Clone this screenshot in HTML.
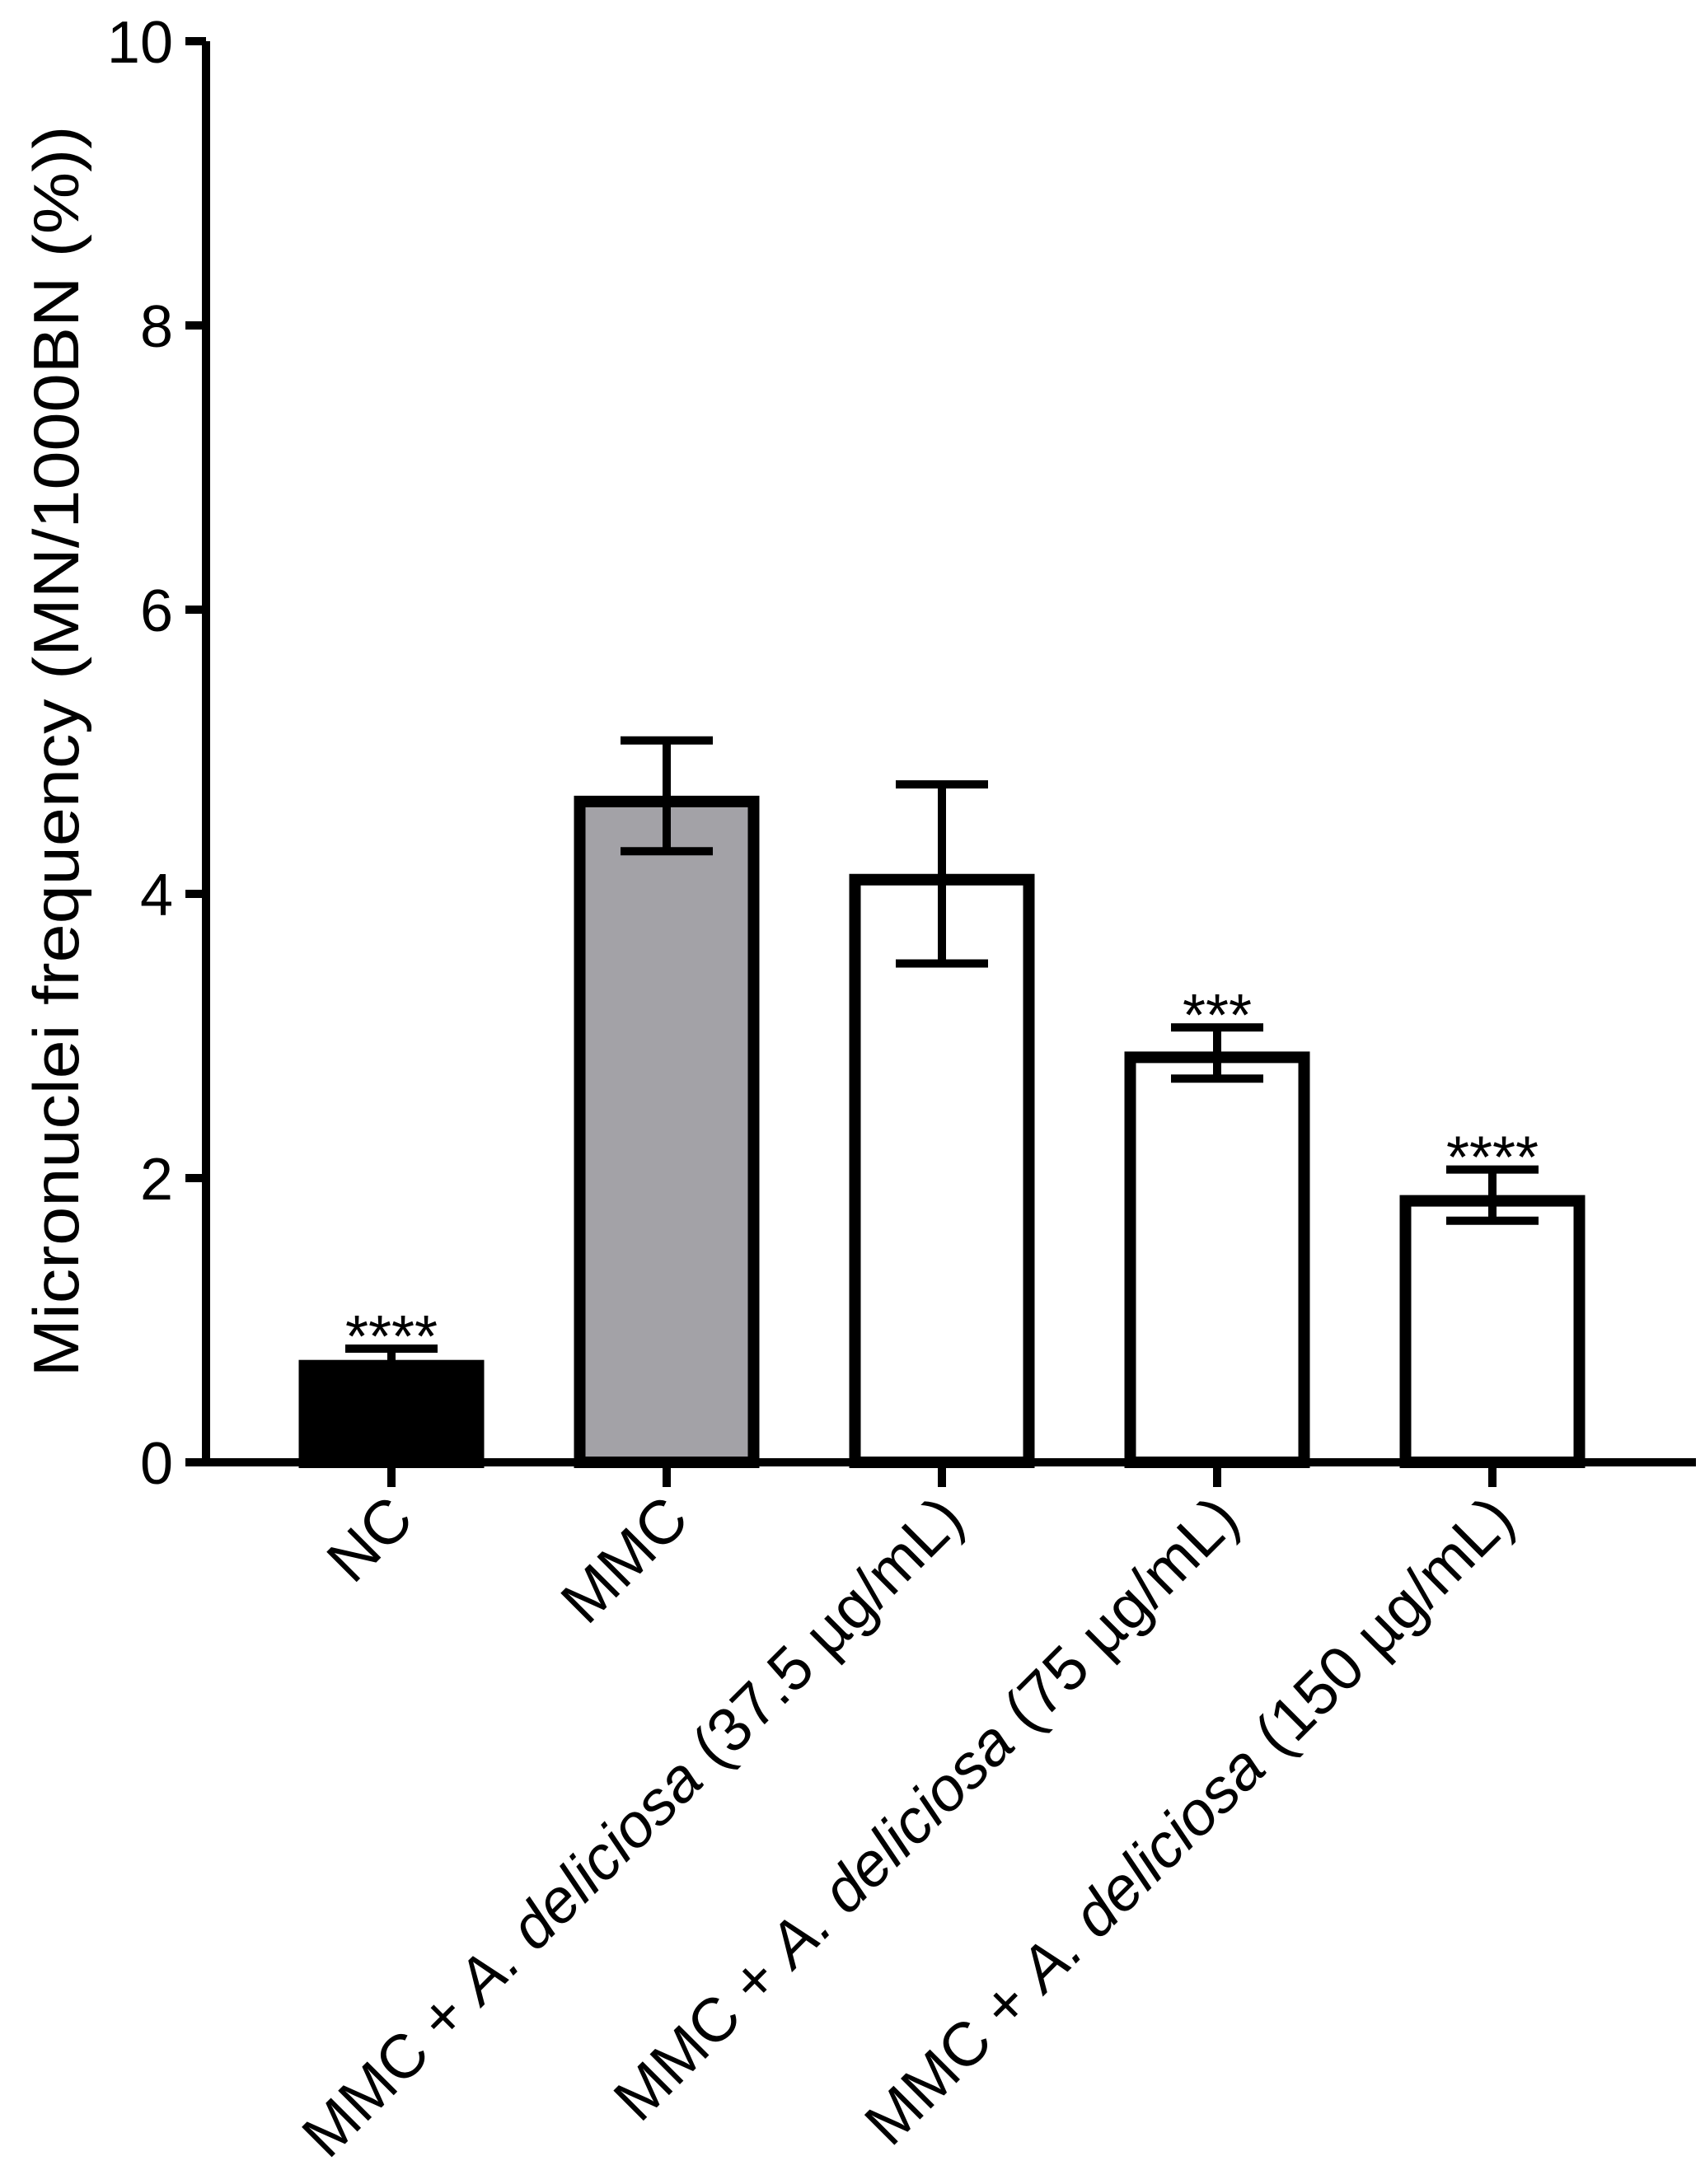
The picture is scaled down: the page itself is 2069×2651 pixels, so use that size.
<!DOCTYPE html>
<html><head><meta charset="utf-8"><style>
html,body{margin:0;padding:0;background:#fff;}
svg{display:block;font-family:"Liberation Sans",Arial,sans-serif;}
</style></head><body>
<svg id="chart" width="2069" height="2651" viewBox="0 0 2069 2651">
<g id="axes"></g>
<g id="bars"></g>
<g id="labels"></g>
</svg>
<script>
const categories = ["NC","MMC","MMC + A. deliciosa (37.5 µg/mL)","MMC + A. deliciosa (75 µg/mL)","MMC + A. deliciosa (150 µg/mL)"];
const labelPrefix = ["NC","MMC","MMC + ","MMC + ","MMC + "];
const labelItalic = ["","","A. deliciosa","A. deliciosa","A. deliciosa"];
const labelSuffix = [""," "," (37.5 µg/mL)"," (75 µg/mL)"," (150 µg/mL)"];
const means = [0.68, 4.65, 4.10, 2.85, 1.84];
const errLow = [0.58, 4.30, 3.51, 2.70, 1.70];
const errHigh = [0.80, 5.08, 4.77, 3.06, 2.06];
const stars = ["****","","","***","****"];
const fills = ["#000000","#a3a2a7","#ffffff","#ffffff","#ffffff"];
const yTicks = [0,2,4,6,8,10];

const NS="http://www.w3.org/2000/svg";
const X0=250, XEND=2058, Y0=1775, Y10=50;
function y(v){return Y0-(Y0-Y10)*v/10;}
function x(i){return 475+i*334;}
function mk(tag,attrs,parent){const e=document.createElementNS(NS,tag);for(const k in attrs)e.setAttribute(k,attrs[k]);parent.appendChild(e);return e;}
const axes=document.getElementById('axes'),bars=document.getElementById('bars'),labels=document.getElementById('labels');

let yl=mk('line',{x1:X0,y1:y(10),x2:X0,y2:Y0+5,stroke:'#000','stroke-width':10},axes);


let xl=mk('line',{x1:X0-25,y1:Y0,x2:XEND,y2:Y0,stroke:'#000','stroke-width':10},axes);


yTicks.forEach(t=>{
  const tk=mk('line',{x1:X0-25,y1:y(t),x2:X0,y2:y(t),stroke:'#000','stroke-width':10},axes);
  
  
  const tl=mk('text',{x:X0-40,y:y(t)+26,'font-size':72,'text-anchor':'end'},axes);
  tl.textContent=String(t);
  
  
});
const title=mk('text',{transform:'translate(95,912) rotate(-90)','font-size':78,'text-anchor':'middle',textLength:1519,lengthAdjust:'spacingAndGlyphs'},axes);
title.textContent='Micronuclei frequency (MN/1000BN (%))';



const BW=211;
means.forEach((m,i)=>{
  const cx=x(i);
  const r=mk('rect',{x:cx-BW/2,y:y(m),width:BW,height:Y0-y(m),fill:fills[i],stroke:'#000','stroke-width':14},bars);
  
  
  const g=mk('g',{stroke:'#000','stroke-width':10},bars);
  
  
  mk('line',{x1:cx,y1:y(errHigh[i]),x2:cx,y2:y(errLow[i])},g);
  mk('line',{x1:cx-56,y1:y(errHigh[i]),x2:cx+56,y2:y(errHigh[i])},g);
  if(i>0) mk('line',{x1:cx-56,y1:y(errLow[i]),x2:cx+56,y2:y(errLow[i])},g);
  const tk=mk('line',{x1:cx,y1:Y0,x2:cx,y2:Y0+30,stroke:'#000','stroke-width':10},axes);
  
  
  if(stars[i]){
    const s=mk('text',{x:cx,y:y(errHigh[i])+10,'font-size':72,'text-anchor':'middle'},labels);
    s.textContent=stars[i];
    
    
  }
  const t=mk('text',{transform:`translate(${cx+30},1848) rotate(-45)`,'font-size':75,'text-anchor':'end'},labels);
  
  
  const a=mk('tspan',{},t);a.textContent=labelPrefix[i];
  if(labelItalic[i]){
    const b=mk('tspan',{'font-style':'italic'},t);b.textContent=labelItalic[i];
    const c=mk('tspan',{},t);c.textContent=labelSuffix[i];
  }
});
</script>
</body></html>
